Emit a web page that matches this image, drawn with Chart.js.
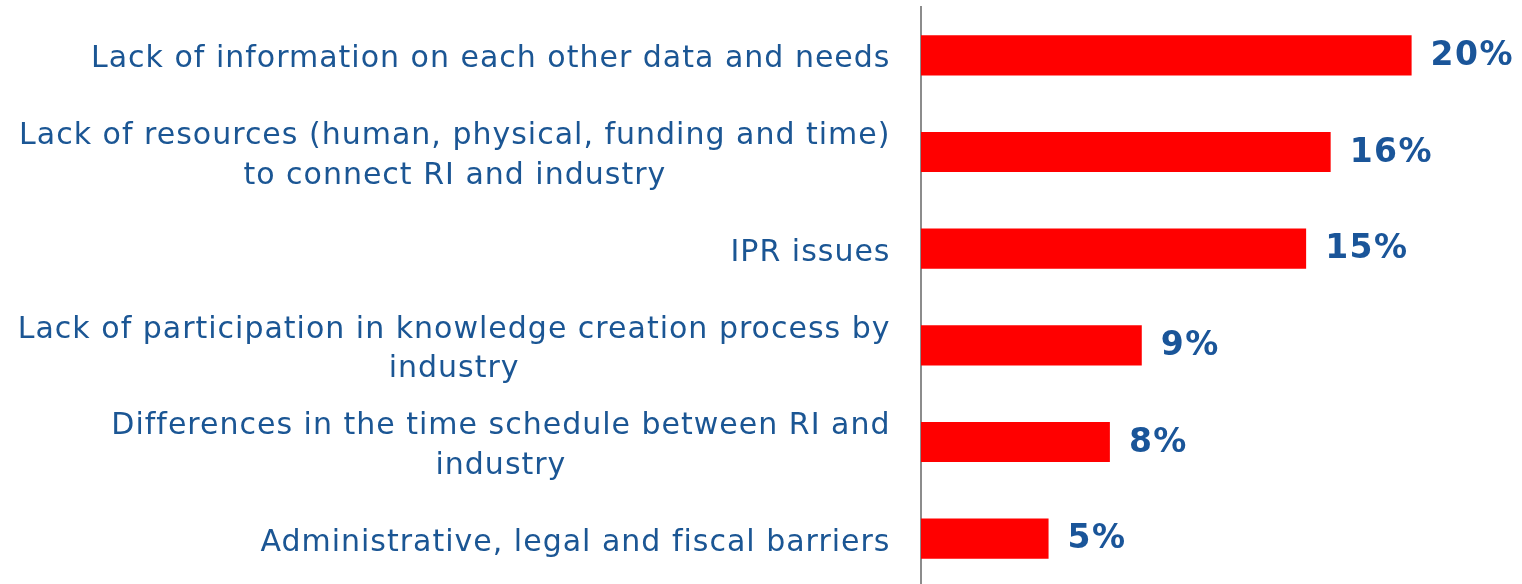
<!DOCTYPE html>
<html>
<head>
<meta charset="utf-8">
<script src="https://cdn.jsdelivr.net/npm/chart.js@4/dist/chart.umd.min.js"></script>
<style>
html,body{margin:0;padding:0;background:#fff;overflow:hidden;}
#wrap{width:1522px;height:584px;overflow:hidden;}
</style>
</head>
<body>
<div id="wrap"><canvas id="c" width="1522" height="587"></canvas></div>
<script>
const categories = [
  ["Lack of information on each other data and needs"],
  ["Lack of resources (human, physical, funding and time)", "to connect RI and industry"],
  ["IPR issues"],
  ["Lack of participation in knowledge creation process by", "industry"],
  ["Differences in the time schedule between RI and", "industry"],
  ["Administrative, legal and fiscal barriers"]
];
const values = [20.0, 16.7, 15.7, 9.0, 7.7, 5.2];
const valueLabels = ["20%", "16%", "15%", "9%", "8%", "5%"];

// Category labels: each block right-aligned against the axis, lines centred inside the block
const categoryLabelPlugin = {
  id: 'categoryLabels',
  afterDraw(chart) {
    const ctx = chart.ctx;
    const yScale = chart.scales.y;
    const rightEdge = yScale.right - 31;
    const lineGap = 39.5;
    ctx.save();
    ctx.letterSpacing = '1px';
    ctx.font = '30px "DejaVu Sans"';
    ctx.fillStyle = '#1B5694';
    ctx.textAlign = 'center';
    ctx.textBaseline = 'alphabetic';
    chart.data.labels.forEach((lines, i) => {
      const yc = yScale.getPixelForValue(i);
      const blockW = Math.max(...lines.map(l => ctx.measureText(l).width)) - 1;
      const cx = rightEdge - blockW / 2;
      const n = lines.length;
      lines.forEach((line, j) => {
        const base = yc + 12 + (j - (n - 1) / 2) * lineGap;
        ctx.fillText(line, cx, base);
      });
    });
    ctx.restore();
  }
};

const valueLabelPlugin = {
  id: 'valueLabels',
  afterDatasetsDraw(chart) {
    const ctx = chart.ctx;
    const meta = chart.getDatasetMeta(0);
    ctx.save();
    ctx.letterSpacing = '1.5px';
    ctx.font = 'bold 33px "DejaVu Sans"';
    ctx.fillStyle = '#1A5599';
    ctx.textAlign = 'left';
    ctx.textBaseline = 'middle';
    meta.data.forEach((bar, i) => {
      ctx.fillText(valueLabels[i], bar.x + 19, bar.y + 1);
    });
    ctx.restore();
  }
};

new Chart(document.getElementById('c'), {
  type: 'bar',
  data: {
    labels: categories,
    datasets: [{
      data: values,
      backgroundColor: '#FF0000',
      borderWidth: 0,
      categoryPercentage: 1.0,
      barPercentage: 0.415
    }]
  },
  options: {
    indexAxis: 'y',
    responsive: false,
    animation: false,
    layout: { padding: { top: 7, right: 0, bottom: 0, left: 0 } },
    plugins: { legend: { display: false }, tooltip: { enabled: false } },
    scales: {
      x: { display: false, min: 0, max: 24.5 },
      y: {
        grid: { display: false, drawTicks: false },
        border: { display: true, color: '#8C8C8C', width: 2 },
        ticks: { display: false },
        afterFit(scale) {
          scale.width = 921;
          scale.paddingTop = 0;
          scale.paddingBottom = 0;
        }
      }
    }
  },
  plugins: [categoryLabelPlugin, valueLabelPlugin]
});
</script>
</body>
</html>
